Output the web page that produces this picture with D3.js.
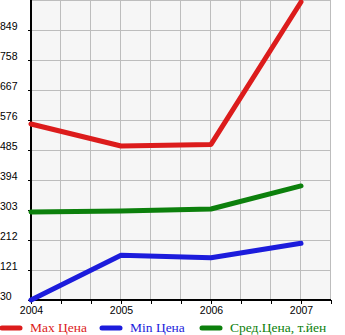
<!DOCTYPE html>
<html><head><meta charset="utf-8">
<script src="https://cdn.jsdelivr.net/npm/d3@7"></script>
<style>body{margin:0;background:#fff}svg{display:block}</style>
</head><body>
<script>
const years = ["2004","2005","2006","2007"];
const maxPrice = [564, 497, 502, 934];
const minPrice = [30, 166, 158, 202];
const avgPrice = [297, 300, 306, 376];
const yTicks = [30, 121, 212, 303, 394, 485, 576, 667, 758, 849];
const seriesNames = ["Max Цена", "Min Цена", "Сред.Цена, т.йен"];
const seriesColors = ["#dc1c1c", "#1c1cdc", "#0c800c"];

(function () {
const W = 345, H = 335;
const svg = d3.select("body").append("svg").attr("width", W).attr("height", H);
const pL = 31, pR = 331, pT = 0, pB = 300;

const x = d3.scalePoint().domain(years).range([pL, pL + 270]);
const xFine = d3.scaleLinear().domain([0, 10]).range([pL, pR]);
const y = d3.scaleLinear().domain([30, 940]).range([pB, pT]);

svg.append("rect").attr("x", pL).attr("y", pT).attr("width", pR - pL).attr("height", pB - pT).attr("fill", "#f6f6f6");

const grid = svg.append("g").attr("stroke", "#bdbdbd").attr("stroke-width", 1).attr("shape-rendering", "crispEdges");
d3.range(1, 11).forEach(i => {
  const gxp = Math.round(xFine(i)) - 0.5;
  grid.append("line").attr("x1", gxp).attr("x2", gxp).attr("y1", pT).attr("y2", pB);
});
yTicks.concat([940]).forEach(v => {
  const gyp = Math.round(y(v)) + 0.5;
  grid.append("line").attr("x1", pL).attr("x2", pR).attr("y1", gyp).attr("y2", gyp);
});

const yAxis = d3.axisLeft(y).tickValues(yTicks).tickSize(3).tickPadding(2);
const gy = svg.append("g").attr("transform", `translate(${pL},0)`).call(yAxis);
gy.select(".domain").remove();
gy.selectAll("line").attr("stroke", "#000");
gy.selectAll("text").attr("font-family", "Liberation Sans, Arial, sans-serif").attr("font-size", "10.5px").attr("fill", "#000")
  .attr("text-anchor", "start").attr("x", -pL).attr("dy", "-0.05em");

const xAxis = d3.axisBottom(xFine).tickValues(d3.range(0, 11)).tickSize(4).tickFormat(d => (d % 3 === 0 ? years[d / 3] : ""));
const gx = svg.append("g").attr("transform", `translate(0,${pB})`).call(xAxis);
gx.select(".domain").remove();
gx.selectAll("line").attr("stroke", "#000");
gx.selectAll("text").attr("font-family", "Liberation Sans, Arial, sans-serif").attr("font-size", "10.5px").attr("fill", "#000");

svg.append("line").attr("x1", pL).attr("x2", pL).attr("y1", pT).attr("y2", pB + 1).attr("stroke", "#000").attr("stroke-width", 2);
svg.append("line").attr("x1", pL - 1).attr("x2", pR).attr("y1", pB).attr("y2", pB).attr("stroke", "#000").attr("stroke-width", 2);

const line = d3.line().x((d, i) => x(years[i])).y(d => y(d));
[maxPrice, minPrice, avgPrice].forEach((s, k) => {
  svg.append("path").datum(s).attr("d", line).attr("fill", "none")
    .attr("stroke", seriesColors[k]).attr("stroke-width", 5)
    .attr("stroke-linecap", "round").attr("stroke-linejoin", "round");
});

const lg = svg.append("g");
seriesNames.forEach((n, k) => {
  const lx = k * 100;
  lg.append("line").attr("x1", lx + 2).attr("x2", lx + 20).attr("y1", 328).attr("y2", 328)
    .attr("stroke", seriesColors[k]).attr("stroke-width", 5).attr("stroke-linecap", "round");
  lg.append("text").attr("x", lx + 30).attr("y", 332).text(n)
    .attr("font-family", "Liberation Serif, Times New Roman, serif").attr("font-size", "13.5px").attr("fill", seriesColors[k]);
});
})();
</script>
</body></html>
